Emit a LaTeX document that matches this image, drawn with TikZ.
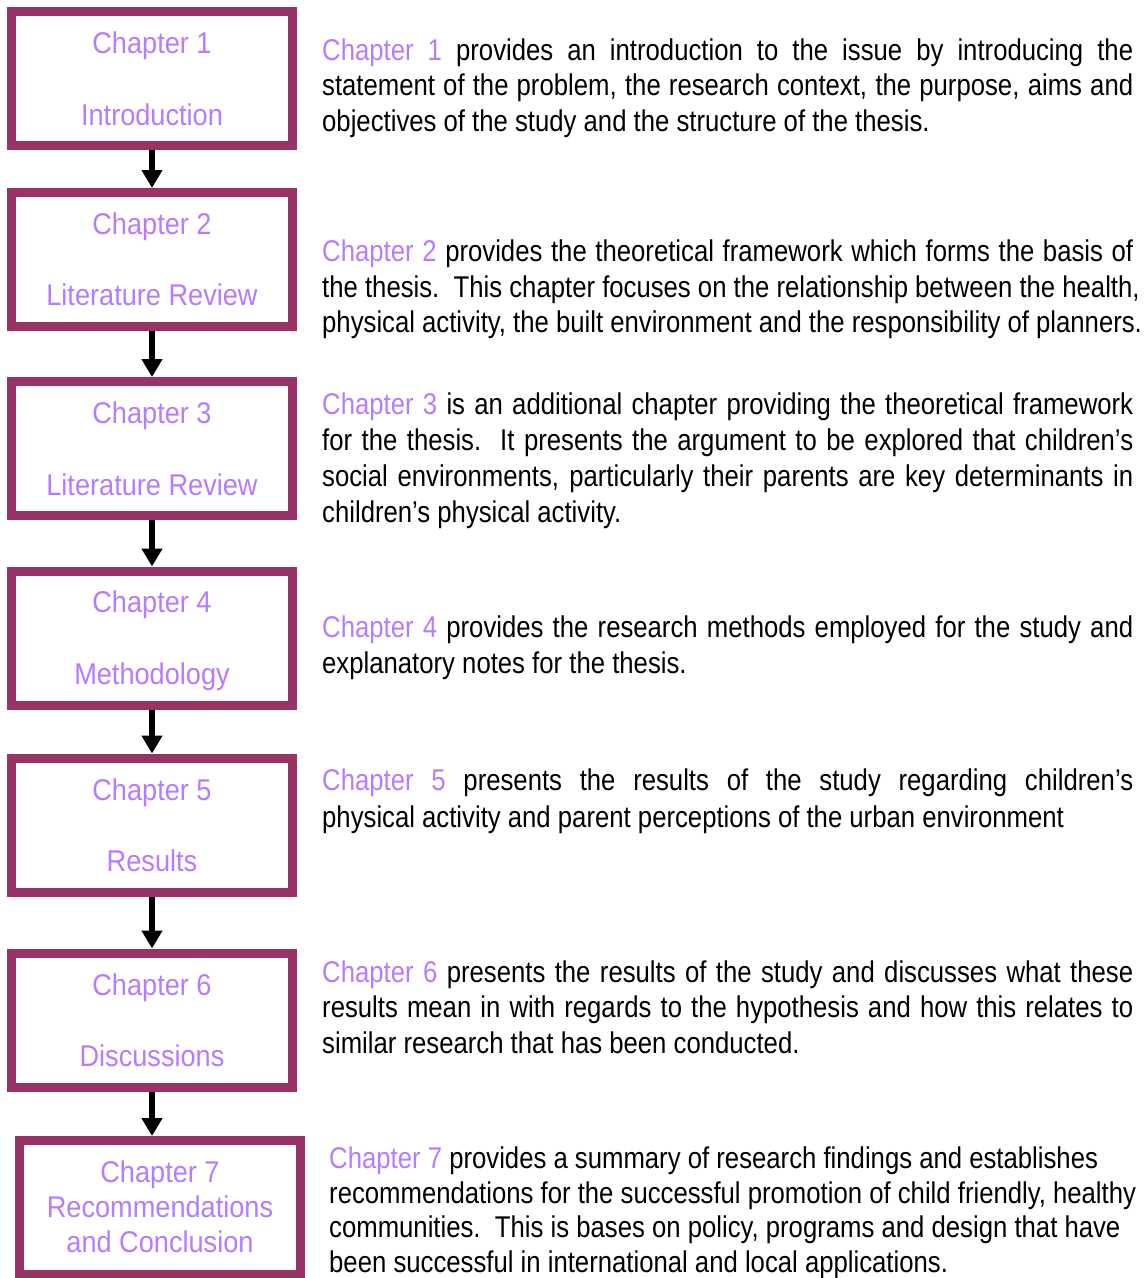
\documentclass[tikz,border=0pt]{standalone}
\usepackage{fontspec}
\setmainfont{Liberation Sans}[FakeStretch=0.857]
\newfontfamily\lblfont{Liberation Sans}[FakeStretch=0.905]
\usetikzlibrary{arrows.meta}
\definecolor{framecol}{HTML}{993366}
\definecolor{chapcol}{HTML}{B77BFF}
\newcommand{\chap}[1]{\textcolor{chapcol}{#1}}
\newcommand{\jline}[1]{\makebox[811pt][s]{#1}}
\tikzset{
  chapbox/.style={draw=framecol, line width=9pt, fill=white,
    minimum width=281pt, minimum height=134pt, inner sep=0pt},
  lbl/.style={anchor=base, inner sep=0pt, text=chapcol,
    font=\lblfont\fontsize{30}{36}\selectfont},
  txt/.style={anchor=base west, inner sep=0pt, text=black,
    font=\fontsize{30}{36}\selectfont},
  flow/.style={line width=6pt, -{Triangle[width=20pt,length=18pt]}}
}
\begin{document}
\begin{tikzpicture}[x=1pt,y=-1pt]
\useasboundingbox (0,0) rectangle (1145,1278);

% chapter boxes
\node[chapbox] (b1) at (152,78.5) {};
\node[chapbox] (b2) at (152,259.5) {};
\node[chapbox] (b3) at (152,448.5) {};
\node[chapbox] (b4) at (152,638) {};
\node[chapbox] (b5) at (152,825) {};
\node[chapbox] (b6) at (152,1020) {};
\node[chapbox] (b7) at (160,1207.5) {};

% box titles
\node[lbl] (l1a) at (152,53) {Chapter 1};
\node[lbl] (l1b) at (152,125) {Introduction};
\node[lbl] (l2a) at (152,234) {Chapter 2};
\node[lbl] (l2b) at (152,305) {Literature Review};
\node[lbl] (l3a) at (152,423) {Chapter 3};
\node[lbl] (l3b) at (152,495) {Literature Review};
\node[lbl] (l4a) at (152,612) {Chapter 4};
\node[lbl] (l4b) at (152,684) {Methodology};
\node[lbl] (l5a) at (152,800) {Chapter 5};
\node[lbl] (l5b) at (152,871) {Results};
\node[lbl] (l6a) at (152,995) {Chapter 6};
\node[lbl] (l6b) at (152,1066) {Discussions};
\node[lbl] (l7a) at (160,1182) {Chapter 7};
\node[lbl] (l7b) at (160,1217) {Recommendations};
\node[lbl] (l7c) at (160,1252) {and Conclusion};

% flow arrows
\draw[flow] (b1.south) -- (b2.north);
\draw[flow] (b2.south) -- (b3.north);
\draw[flow] (b3.south) -- (b4.north);
\draw[flow] (b4.south) -- (b5.north);
\draw[flow] (b5.south) -- (b6.north);
\draw[flow] (b6.south) -- (b6.south |- b7.north);

% descriptions
\node[txt] (d1a) at (322,60) {\jline{\chap{Chapter 1} provides an introduction to the issue by introducing the}};
\node[txt] (d1b) at (322,95.5) {\jline{statement of the problem, the research context, the purpose, aims and}};
\node[txt] (d1c) at (322,131) {objectives of the study and the structure of the thesis.};

\node[txt] (d2a) at (322,261) {\jline{\chap{Chapter 2} provides the theoretical framework which forms the basis of}};
\node[txt] (d2b) at (322,297) {the thesis.\ \ This chapter focuses on the relationship between the health,};
\node[txt] (d2c) at (322,332) {physical activity, the built environment and the responsibility of planners.};

\node[txt] (d3a) at (322,414) {\jline{\chap{Chapter 3} is an additional chapter providing the theoretical framework}};
\node[txt] (d3b) at (322,450) {\jline{for the thesis.\ \ It presents the argument to be explored that children’s}};
\node[txt] (d3c) at (322,486) {\jline{social environments, particularly their parents are key determinants in}};
\node[txt] (d3d) at (322,522) {children’s physical activity.};

\node[txt] (d4a) at (322,637) {\jline{\chap{Chapter 4} provides the research methods employed for the study and}};
\node[txt] (d4b) at (322,673) {explanatory notes for the thesis.};

\node[txt] (d5a) at (322,790) {\jline{\chap{Chapter 5} presents the results of the study regarding children’s}};
\node[txt] (d5b) at (322,827) {physical activity and parent perceptions of the urban environment};

\node[txt] (d6a) at (322,982) {\jline{\chap{Chapter 6} presents the results of the study and discusses what these}};
\node[txt] (d6b) at (322,1017) {\jline{results mean in with regards to the hypothesis and how this relates to}};
\node[txt] (d6c) at (322,1053) {similar research that has been conducted.};

\node[txt] (d7a) at (329,1168) {\chap{Chapter 7} provides a summary of research findings and establishes};
\node[txt] (d7b) at (329,1203) {recommendations for the successful promotion of child friendly, healthy};
\node[txt] (d7c) at (329,1237) {communities.\ \ This is bases on policy, programs and design that have};
\node[txt] (d7d) at (329,1272) {been successful in international and local applications.};
\end{tikzpicture}
\end{document}
